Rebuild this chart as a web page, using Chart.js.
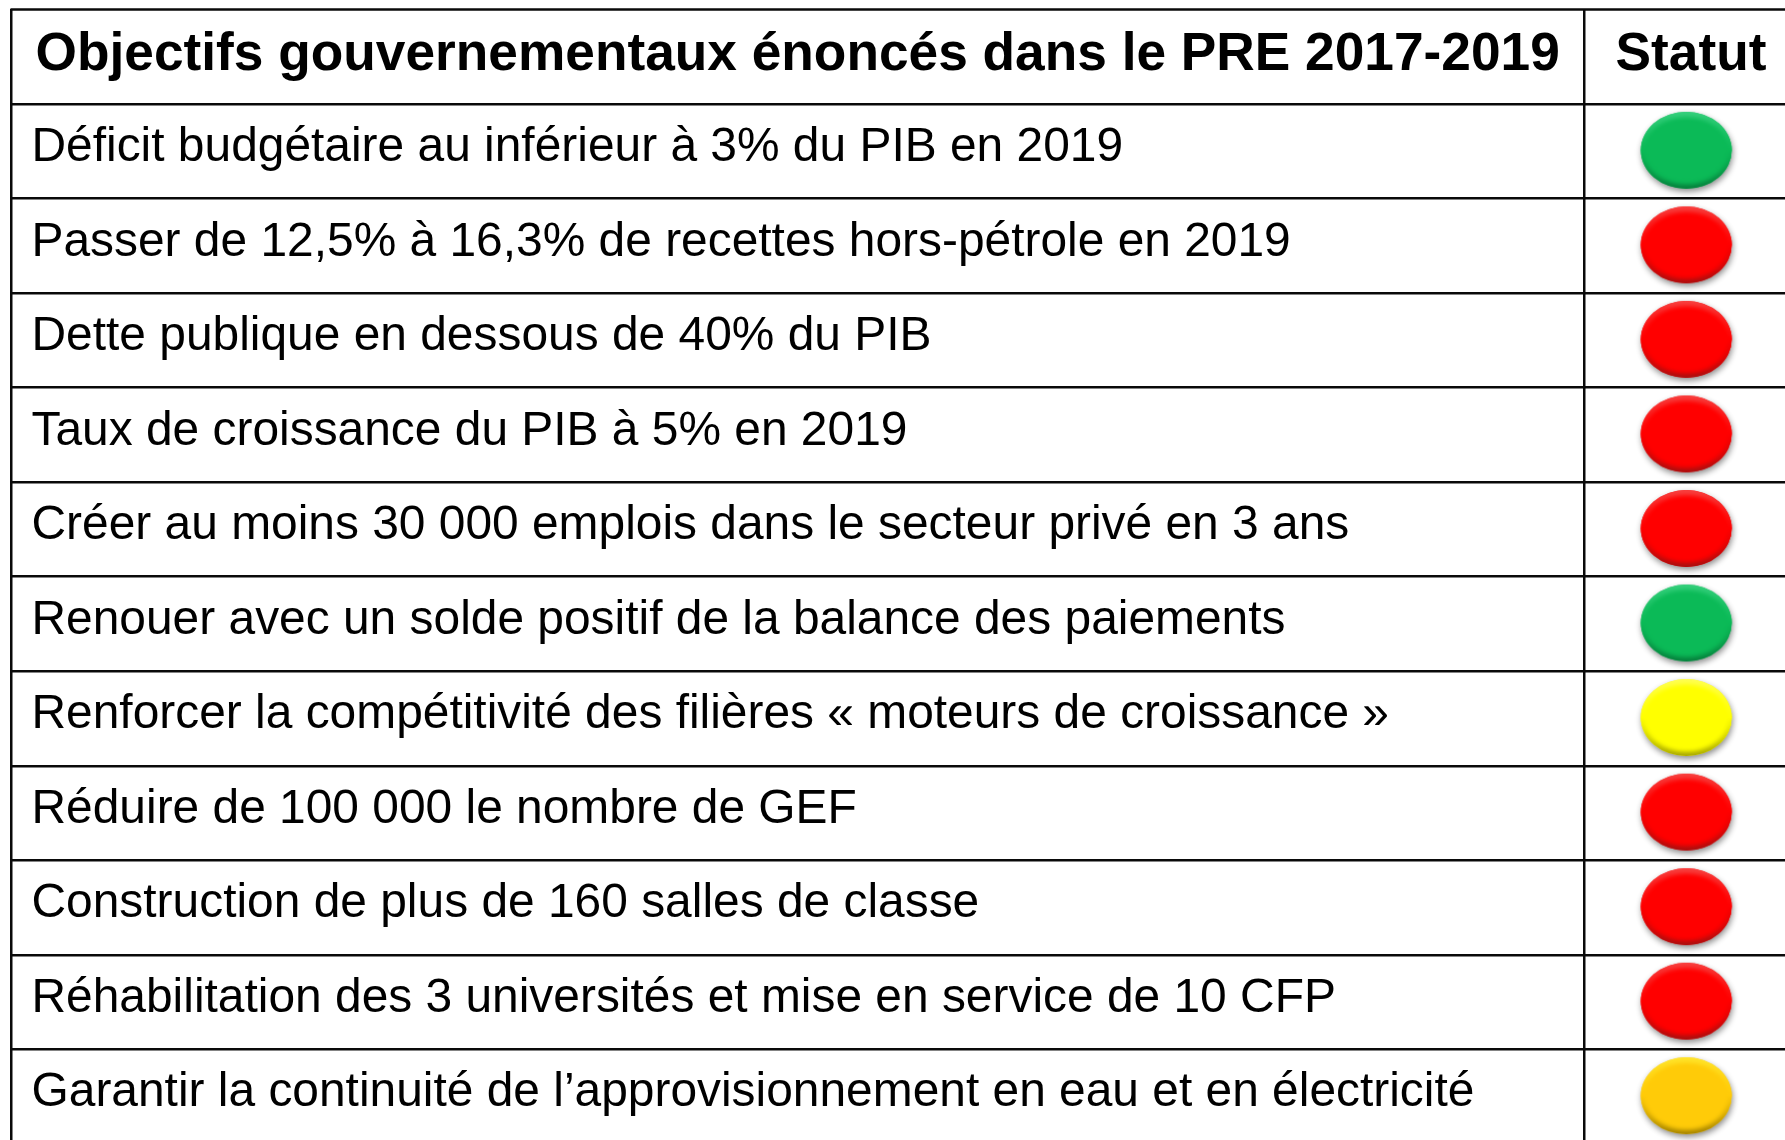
<!DOCTYPE html>
<html lang="fr">
<head>
<meta charset="utf-8">
<title>Objectifs gouvernementaux</title>
<script src="https://cdn.jsdelivr.net/npm/chart.js@4/dist/chart.umd.min.js"></script>
<style>
  html, body { margin: 0; padding: 0; background: #fff; overflow: hidden; height: 100%; }
  canvas { display: block; }
</style>
</head>
<body>
<canvas id="table"></canvas>
<script>
const headerLabels = ['Objectifs gouvernementaux énoncés dans le PRE 2017-2019', 'Statut'];

const objectifs = [
  'Déficit budgétaire au inférieur à 3% du PIB en 2019',
  'Passer de 12,5% à 16,3% de recettes hors-pétrole en 2019',
  'Dette publique en dessous de 40% du PIB',
  'Taux de croissance du PIB à 5% en 2019',
  'Créer au moins 30 000 emplois dans le secteur privé en 3 ans',
  'Renouer avec un solde positif de la balance des paiements',
  'Renforcer la compétitivité des filières « moteurs de croissance »',
  'Réduire de 100 000 le nombre de GEF',
  'Construction de plus de 160 salles de classe',
  'Réhabilitation des 3 universités et mise en service de 10 CFP',
  'Garantir la continuité de l’approvisionnement en eau et en électricité'
];

const statuts = ['vert', 'rouge', 'rouge', 'rouge', 'rouge', 'vert', 'jaune', 'rouge', 'rouge', 'rouge', 'orange'];

// colours of the status lights: [main, top rim, bottom rim]
const statutColors = {
  vert: ['#0bba57', '#35d07c', '#06803c'],
  rouge: ['#ff0000', '#f8403f', '#a81010'],
  jaune: ['#ffff00', '#ffff50', '#a8a800'],
  orange: ['#ffcb08', '#ffe52a', '#a58400']
};

// column layout on the x scale (0 = left border, 1 = right edge of the page)
const colSplit = 0.8867;
const headerCenter = 0.4433;
const statutCenter = 0.947;
const lightCenter = 0.9452;

// one small canvas per colour, used as the point style
function makeLight(c) {
  const w = 107, h = 93, cx = 52, cy = 45.5, rx = 45.5, ry = 38.5;
  const cv = document.createElement('canvas');
  cv.width = w;
  cv.height = h;
  const g = cv.getContext('2d');

  g.save();
  g.shadowColor = 'rgba(0,0,0,0.45)';
  g.shadowBlur = 6;
  g.shadowOffsetX = 1;
  g.shadowOffsetY = 3;
  g.fillStyle = c[0];
  g.beginPath();
  g.ellipse(cx, cy, rx, ry, 0, 0, Math.PI * 2);
  g.fill();
  g.restore();

  const rim = g.createLinearGradient(0, cy - ry, 0, cy + ry);
  rim.addColorStop(0, c[1]);
  rim.addColorStop(0.5, c[0]);
  rim.addColorStop(1, c[2]);
  g.fillStyle = rim;
  g.beginPath();
  g.ellipse(cx, cy, rx, ry, 0, 0, Math.PI * 2);
  g.fill();

  g.save();
  g.beginPath();
  g.ellipse(cx, cy, rx, ry, 0, 0, Math.PI * 2);
  g.clip();
  g.filter = 'blur(2px)';
  g.fillStyle = c[0];
  g.beginPath();
  g.ellipse(cx, cy + 0.5, rx - 3, ry - 5, 0, 0, Math.PI * 2);
  g.fill();
  g.restore();
  return cv;
}

const lights = {};
Object.keys(statutColors).forEach(k => { lights[k] = makeLight(statutColors[k]); });

// the table's top border is above the x axis ticks, no scale draws it
const topBorder = {
  id: 'topBorder',
  afterDraw(chart) {
    const x = chart.scales.x, ctx = chart.ctx;
    ctx.save();
    ctx.strokeStyle = '#0a0a0a';
    ctx.lineWidth = 2.5;
    ctx.beginPath();
    ctx.moveTo(x.left - 1, x.top);
    ctx.lineTo(x.right, x.top);
    ctx.stroke();
    ctx.restore();
  }
};

const canvas = document.getElementById('table');
canvas.width = 1785;
canvas.height = 1144;

new Chart(canvas, {
  type: 'scatter',
  data: {
    labels: objectifs,
    datasets: [{
      data: objectifs.map(o => ({ x: lightCenter, y: o })),
      pointStyle: ctx => lights[statuts[ctx.dataIndex]],
      pointRadius: 40,
      pointHoverRadius: 40
    }]
  },
  options: {
    responsive: false,
    animation: false,
    layout: { autoPadding: false, padding: { left: 11.5, top: 9.5, right: 0, bottom: 0 } },
    plugins: { legend: { display: false }, tooltip: { enabled: false } },
    scales: {
      x: {
        type: 'linear',
        position: 'top',
        min: 0,
        max: 1,
        afterBuildTicks(scale) {
          scale.ticks = [0, headerCenter, colSplit, statutCenter].map(v => ({ value: v }));
        },
        afterFit(scale) { scale.height = 94.5; },
        border: { display: false },
        grid: {
          lineWidth: 2.5,
          tickLength: 95,
          color: ctx => (ctx.tick && (ctx.tick.value === 0 || ctx.tick.value === colSplit)) ? '#0a0a0a' : 'rgba(0,0,0,0)'
        },
        ticks: {
          autoSkip: false,
          maxRotation: 0,
          padding: -78,
          color: '#000',
          font: { family: '"Liberation Sans", Arial, sans-serif', size: 53.25, weight: 'bold' },
          callback(value) {
            if (value === headerCenter) return headerLabels[0];
            if (value === statutCenter) return headerLabels[1];
            return '';
          }
        }
      },
      y: {
        type: 'category',
        offset: true,
        afterFit(scale) {
          // labels sit inside the plot, they need no room around the axis
          scale.width = 0;
          scale.paddingTop = 0;
          scale.paddingBottom = 0;
        },
        border: { display: false },
        grid: { offset: true, drawTicks: false, lineWidth: 2.5, color: '#0a0a0a' },
        ticks: {
          mirror: true,
          autoSkip: false,
          padding: 20,
          labelOffset: -3.5,
          color: '#000',
          font: { family: '"Liberation Sans", Arial, sans-serif', size: 47.9 }
        }
      }
    }
  },
  plugins: [topBorder]
});
</script>
</body>
</html>
